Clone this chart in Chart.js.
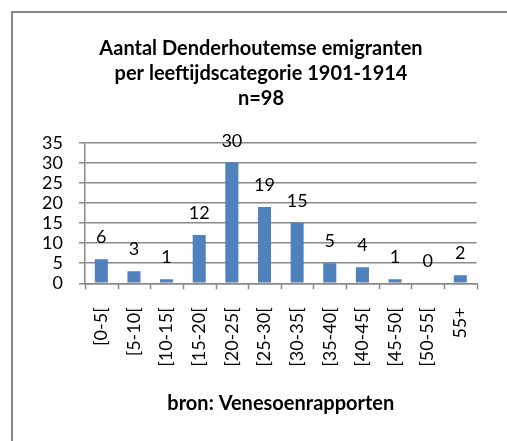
<!DOCTYPE html>
<html>
<head>
<meta charset="utf-8">
<script src="https://cdn.jsdelivr.net/npm/chart.js@4"></script>
<style>
  html, body { margin: 0; padding: 0; background: #fff; overflow: hidden; }
  #wrap { position: relative; width: 507px; height: 441px; }
  #frame {
    position: absolute; left: 11px; top: 11px; width: 600px; height: 600px;
    border-left: 2px solid #868686; border-top: 2px solid #868686;
  }
  canvas { position: absolute; left: 0; top: 0; }
</style>
</head>
<body>
<div id="wrap">
  <div id="frame"></div>
  <canvas id="chart" width="507" height="441"></canvas>
</div>
<script>
  /* ===== Data ===== */
  const categories = ['[0-5[', '[5-10[', '[10-15[', '[15-20[', '[20-25[', '[25-30[',
    '[30-35[', '[35-40[', '[40-45[', '[45-50[', '[50-55[', '55+'];
  const emigrants = [6, 3, 1, 12, 30, 19, 15, 5, 4, 1, 0, 2];
  const yTicks = [0, 5, 10, 15, 20, 25, 30, 35];

  const titleLines = ['Aantal Denderhoutemse emigranten', 'per leeftijdscategorie 1901-1914', 'n=98'];
  const xTitle = 'bron: Venesoenrapporten';

  const FONT = 'Lato, Calibri, sans-serif';
  const barColor = '#4f81bd';
  const gridColor = '#898989';

  /* ===== Value labels above bars ===== */
  const valueLabels = {
    id: 'valueLabels',
    afterDatasetsDraw(chart) {
      const { ctx } = chart;
      const meta = chart.getDatasetMeta(0);
      ctx.save();
      ctx.font = '18px ' + FONT;
      ctx.fillStyle = '#000';
      ctx.textAlign = 'center';
      ctx.textBaseline = 'middle';
      meta.data.forEach((bar, i) => {
        ctx.fillText(String(emigrants[i]), bar.x, bar.y - 22);
      });
      ctx.restore();
    }
  };

  new Chart(document.getElementById('chart'), {
    type: 'bar',
    data: {
      labels: categories,
      datasets: [{
        data: emigrants,
        backgroundColor: barColor,
        borderWidth: 0,
        barPercentage: 0.4,
        categoryPercentage: 1
      }]
    },
    options: {
      responsive: false,
      animation: false,
      // left/right padding also centres the title at x≈261 like the original
      layout: { padding: { left: 41, right: 26, top: 0, bottom: 0 } },
      plugins: {
        legend: { display: false },
        tooltip: { enabled: false },
        title: {
          display: true,
          text: titleLines,
          color: '#000',
          font: { family: FONT, size: 20, weight: 'bold', lineHeight: '25px' },
          padding: { top: 36, bottom: 31.7 }
        }
      },
      scales: {
        y: {
          min: 0,
          max: 35,
          afterFit: s => { s.width = 44; },
          afterBuildTicks: s => { s.ticks = yTicks.map(v => ({ value: v })); },
          grid: { color: gridColor, lineWidth: 1.5, tickLength: 6, drawTicks: true },
          border: { display: true, color: gridColor, width: 1.5 },
          ticks: { color: '#000', padding: 16, autoSkip: false, font: { family: FONT, size: 18 } }
        },
        x: {
          afterFit: s => { s.height = 441 - 283.3; },
          grid: { display: false, drawTicks: false },
          border: { display: true, color: gridColor, width: 1.5 },
          ticks: {
            color: '#000',
            minRotation: 90,
            maxRotation: 90,
            autoSkip: false,
            padding: 24,
            font: { family: FONT, size: 18 }
          },
          title: {
            display: true,
            text: xTitle,
            color: '#000',
            font: { family: FONT, size: 20, weight: 'bold' },
            padding: { top: 0, bottom: 25 }
          }
        }
      }
    },
    plugins: [valueLabels, {
      /* category tick marks on the x axis (between bars, pointing down) */
      id: 'xTickMarks',
      afterDraw(chart) {
        const { ctx, chartArea, scales: { x } } = chart;
        const step = (chartArea.right - chartArea.left) / categories.length;
        ctx.save();
        ctx.strokeStyle = gridColor;
        ctx.lineWidth = 1.5;
        ctx.beginPath();
        for (let i = 0; i <= categories.length; i++) {
          const px = Math.round(x.left + i * step) + 0.5;
          ctx.moveTo(px, chartArea.bottom);
          ctx.lineTo(px, chartArea.bottom + 6);
        }
        ctx.stroke();
        ctx.restore();
      }
    }]
  });
</script>
</body>
</html>
